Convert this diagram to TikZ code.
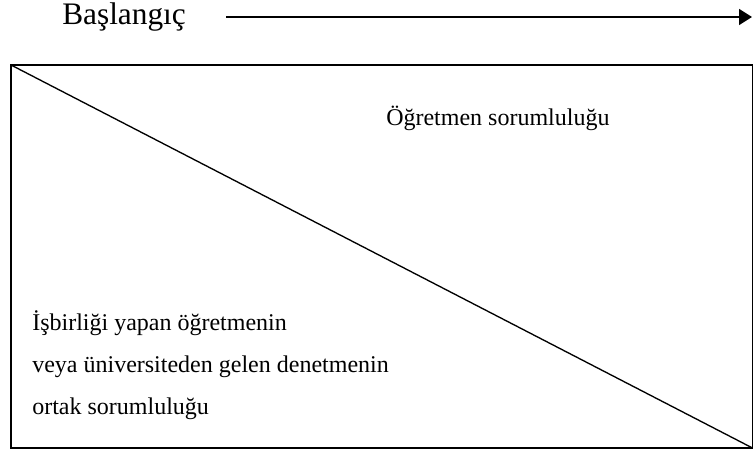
\documentclass[tikz,border=0pt]{standalone}
\usepackage{fontspec}
\setmainfont{Liberation Serif}
\usetikzlibrary{arrows.meta,positioning}
\tikzset{
  resframe/.style={
    draw,
    line width=1.2pt,
    inner sep=0pt,
    outer sep=0pt
  },
  resdiag/.style={line width=1pt},
  restime/.style={-{Triangle[length=9.75pt,width=12pt]},line width=1.2pt},
  restitle/.style={font=\fontsize{23.5}{28}\selectfont,inner sep=0pt},
  reslabel/.style={font=\fontsize{18}{21.6}\selectfont,inner sep=0pt}
}

\begin{document}
\begin{tikzpicture}[x=0.75pt,y=0.75pt]
  \useasboundingbox (0,0) rectangle (754,454);
  % time axis
  \node[restitle,anchor=base west] (start) at (62,429) {Başlangıç};
  \coordinate (timefrom) at (226,437);
  \coordinate (timeto) at (752,437);
  \draw[restime] (timefrom) -- (timeto);

  % responsibility split
  \node[resframe,minimum width=556.1pt,minimum height=287.25pt] (frame)
    at (381.75,197.5) {};
  \draw[resdiag] (frame.north west) -- (frame.south east);

  \node[reslabel,anchor=base west] (teacher) at (386,328)
    {Öğretmen sorumluluğu};
  \node[reslabel,anchor=base west] (shareda) at (32,123)
    {İşbirliği yapan öğretmenin};
  \node[reslabel,anchor=base west] (sharedb) at (32,82)
    {veya üniversiteden gelen denetmenin};
  \node[reslabel,anchor=base west] (sharedc) at (32,40)
    {ortak sorumluluğu};
\end{tikzpicture}
\end{document}
